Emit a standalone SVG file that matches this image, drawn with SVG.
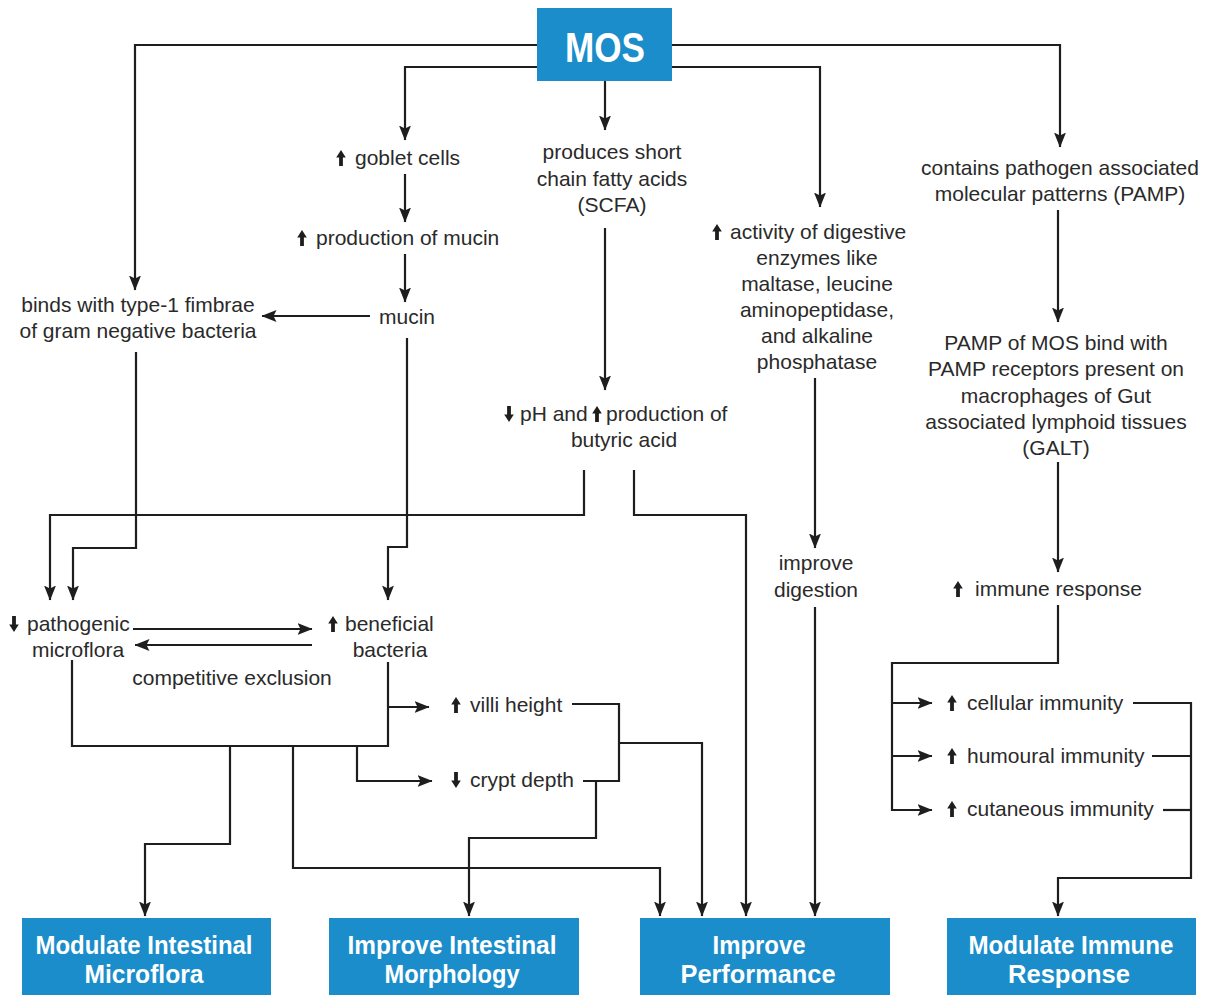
<svg xmlns="http://www.w3.org/2000/svg" width="1214" height="995" viewBox="0 0 1214 995">
<defs>
<marker id="ah" markerUnits="userSpaceOnUse" markerWidth="15" markerHeight="12" viewBox="0 0 15 12" refX="14.5" refY="6" orient="auto">
<path d="M0,0 L15,6 L0,12 L3,6 Z" fill="#1e1e1e"/>
</marker>
<path id="up" d="M0,-15 L4.8,-7.5 L1.9,-7.5 L1.9,1 L-1.9,1 L-1.9,-7.5 L-4.8,-7.5 Z" fill="#1e1e1e"/>
<path id="dn" d="M0,1 L4.8,-6.5 L1.9,-6.5 L1.9,-15 L-1.9,-15 L-1.9,-6.5 L-4.8,-6.5 Z" fill="#1e1e1e"/>
</defs>
<style>
.t{font-family:"Liberation Sans",Arial,sans-serif;font-size:21px;fill:#2a2a2a}
.c{text-anchor:middle}
.bx{fill:#1a8dca}
.bt{font-family:"Liberation Sans",Arial,sans-serif;font-weight:bold;font-size:25px;fill:#ffffff;text-anchor:middle}
.ln{fill:none;stroke:#1e1e1e;stroke-width:2.2}
.ar{marker-end:url(#ah)}
</style>
<rect width="1214" height="995" fill="#ffffff"/>

<g id="connectors">
<path class="ln ar" d="M537,45 H135 V290"/>
<path class="ln ar" d="M672,45 H1060 V147"/>
<path class="ln ar" d="M537,67 H405 V140"/>
<path class="ln ar" d="M672,67 H820 V207"/>
<path class="ln ar" d="M605,81 V130"/>
<path class="ln ar" d="M405,174 V222"/>
<path class="ln ar" d="M405,254 V302"/>
<path class="ln ar" d="M370,316 H262"/>
<path class="ln ar" d="M136,352 V548 H73 V600"/>
<path class="ln ar" d="M407,338 V547 H388 V600"/>
<path class="ln ar" d="M605,228 V390"/>
<path class="ln ar" d="M584,470 V515 H50 V600"/>
<path class="ln ar" d="M634,470 V515 H746 V916"/>
<path class="ln ar" d="M815,378 V548"/>
<path class="ln ar" d="M815,607 V916"/>
<path class="ln ar" d="M1058,210 V322"/>
<path class="ln ar" d="M1058,462 V572"/>
<path class="ln ar" d="M1058,605 V663 H892 V810 H932"/>
<path class="ln ar" d="M892,703 H932"/>
<path class="ln ar" d="M892,756 H932"/>
<path class="ln ar" d="M1133,703 H1191 V878 H1058 V916"/>
<path class="ln" d="M1152,756 H1191"/>
<path class="ln" d="M1163,810 H1191"/>
<path class="ln ar" d="M133,629 H312"/>
<path class="ln ar" d="M312,645 H135"/>
<path class="ln" d="M72,660 V746 H388 V662"/>
<path class="ln ar" d="M388,707 H429"/>
<path class="ln ar" d="M357,746 V781 H432"/>
<path class="ln ar" d="M230,746 V844 H145 V916"/>
<path class="ln ar" d="M293,746 V868 H660 V916"/>
<path class="ln" d="M572,704 H619 V781 H583"/>
<path class="ln ar" d="M619,743 H702 V916"/>
<path class="ln ar" d="M596,781 V838 H469 V916"/>
</g>

<g id="mos">
<rect class="bx" x="537" y="8" width="135" height="73"/>
<text x="605" y="62" font-family="Liberation Sans,Arial,sans-serif" font-weight="bold" font-size="42" fill="#ffffff" text-anchor="middle" textLength="80" lengthAdjust="spacingAndGlyphs">MOS</text>
</g>

<g id="goblet">
<use href="#up" x="341" y="165"/>
<text class="t" x="355" y="165">goblet cells</text>
</g>
<g id="mucin-production">
<use href="#up" x="302" y="245"/>
<text class="t" x="316" y="245">production of mucin</text>
</g>
<g id="mucin">
<text class="t c" x="407" y="324">mucin</text>
</g>
<g id="binds">
<text class="t c" x="138" y="312">binds with type-1 fimbrae</text>
<text class="t c" x="138" y="338">of gram negative bacteria</text>
</g>
<g id="scfa">
<text class="t c" x="612" y="159">produces short</text>
<text class="t c" x="612" y="186">chain fatty acids</text>
<text class="t c" x="612" y="212">(SCFA)</text>
</g>
<g id="ph">
<use href="#dn" x="509" y="421"/>
<text class="t" x="520" y="421">pH and</text>
<use href="#up" x="597" y="421"/>
<text class="t" x="606" y="421">production of</text>
<text class="t c" x="624" y="447">butyric acid</text>
</g>
<g id="enzymes">
<use href="#up" x="717" y="239"/>
<text class="t" x="730" y="239">activity of digestive</text>
<text class="t c" x="817" y="265">enzymes like</text>
<text class="t c" x="817" y="291">maltase, leucine</text>
<text class="t c" x="817" y="317">aminopeptidase,</text>
<text class="t c" x="817" y="343">and alkaline</text>
<text class="t c" x="817" y="369">phosphatase</text>
</g>
<g id="digestion">
<text class="t c" x="816" y="570">improve</text>
<text class="t c" x="816" y="597">digestion</text>
</g>
<g id="pamp">
<text class="t c" x="1060" y="175">contains pathogen associated</text>
<text class="t c" x="1060" y="201">molecular patterns (PAMP)</text>
</g>
<g id="pamp-bind">
<text class="t c" x="1056" y="350">PAMP of MOS bind with</text>
<text class="t c" x="1056" y="376">PAMP receptors present on</text>
<text class="t c" x="1056" y="403">macrophages of Gut</text>
<text class="t c" x="1056" y="429">associated lymphoid tissues</text>
<text class="t c" x="1056" y="455">(GALT)</text>
</g>
<g id="immune">
<use href="#up" x="958" y="596"/>
<text class="t" x="975" y="596">immune response</text>
</g>
<g id="cellular">
<use href="#up" x="952" y="710"/>
<text class="t" x="967" y="710">cellular immunity</text>
</g>
<g id="humoural">
<use href="#up" x="952" y="763"/>
<text class="t" x="967" y="763">humoural immunity</text>
</g>
<g id="cutaneous">
<use href="#up" x="952" y="816"/>
<text class="t" x="967" y="816">cutaneous immunity</text>
</g>
<g id="pathogenic">
<use href="#dn" x="14" y="631"/>
<text class="t" x="27" y="631">pathogenic</text>
<text class="t c" x="78" y="657">microflora</text>
</g>
<g id="beneficial">
<use href="#up" x="333" y="631"/>
<text class="t" x="345" y="631">beneficial</text>
<text class="t c" x="390" y="657">bacteria</text>
</g>
<g id="competitive">
<text class="t c" x="232" y="685">competitive exclusion</text>
</g>
<g id="villi">
<use href="#up" x="456" y="712"/>
<text class="t" x="470" y="712">villi height</text>
</g>
<g id="crypt">
<use href="#dn" x="456" y="787"/>
<text class="t" x="470" y="787">crypt depth</text>
</g>

<g id="out-microflora">
<rect class="bx" x="22" y="918" width="249" height="80"/>
<text class="bt" x="144" y="954" textLength="217" lengthAdjust="spacingAndGlyphs">Modulate Intestinal</text>
<text class="bt" x="144" y="983" textLength="119" lengthAdjust="spacingAndGlyphs">Microflora</text>
</g>
<g id="out-morphology">
<rect class="bx" x="329" y="918" width="250" height="80"/>
<text class="bt" x="452" y="954" textLength="209" lengthAdjust="spacingAndGlyphs">Improve Intestinal</text>
<text class="bt" x="452" y="983" textLength="135" lengthAdjust="spacingAndGlyphs">Morphology</text>
</g>
<g id="out-performance">
<rect class="bx" x="640" y="918" width="250" height="80"/>
<text class="bt" x="759" y="954" textLength="93" lengthAdjust="spacingAndGlyphs">Improve</text>
<text class="bt" x="758" y="983" textLength="155" lengthAdjust="spacingAndGlyphs">Performance</text>
</g>
<g id="out-immune">
<rect class="bx" x="947" y="918" width="249" height="80"/>
<text class="bt" x="1071" y="954" textLength="205" lengthAdjust="spacingAndGlyphs">Modulate Immune</text>
<text class="bt" x="1069" y="983" textLength="122" lengthAdjust="spacingAndGlyphs">Response</text>
</g>
</svg>
